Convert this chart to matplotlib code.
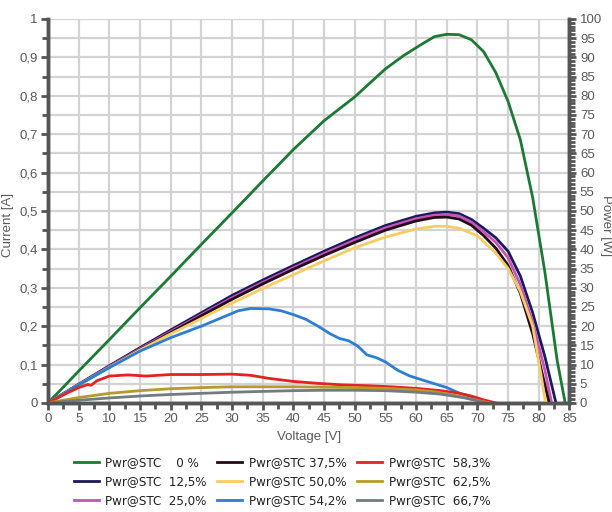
import matplotlib.pyplot as plt
import numpy as np
from matplotlib.ticker import MultipleLocator, FuncFormatter
from matplotlib import font_manager

plt.rcParams['font.family'] = ['Liberation Sans', 'DejaVu Sans']

#  Power curves [W] vs voltage [V]

v_0 = [0, 5, 10, 15, 20, 25, 30, 35, 40, 45, 50, 55, 58, 61, 63, 65, 67, 69, 71, 73, 75, 77, 79, 81, 83, 84.3]
p_0 = [0, 8.3, 16.5, 24.8, 33, 41.3, 49.5, 57.8, 66, 73.5, 79.7, 87, 90.5, 93.5, 95.4, 96, 95.9, 94.6, 91.5, 86, 78.5, 68.5, 53.5, 34, 11, 0]

v_125 = [0, 5, 10, 15, 20, 25, 30, 35, 40, 45, 50, 55, 60, 63, 65, 67, 69, 71, 73, 75, 77, 79, 81, 82.8]
p_125 = [0, 4.9, 9.7, 14.4, 19, 23.5, 28, 32, 35.8, 39.5, 43, 46.2, 48.6, 49.5, 49.7, 49.3, 47.8, 45.5, 43, 39.5, 33, 23.5, 12, 0]

v_250 = [0, 5, 10, 15, 20, 25, 30, 35, 40, 45, 50, 55, 60, 63, 65, 67, 69, 71, 73, 75, 77, 79, 81, 82.1]
p_250 = [0, 4.8, 9.5, 14.1, 18.6, 23, 27.4, 31.4, 35.2, 38.9, 42.4, 45.6, 48, 48.9, 49.1, 48.7, 47.1, 44.6, 41.8, 37.8, 30.8, 21, 8.5, 0]

v_375 = [0, 5, 10, 15, 20, 25, 30, 35, 40, 45, 50, 55, 60, 63, 65, 67, 69, 71, 73, 75, 77, 79, 80.5, 81.7]
p_375 = [0, 4.7, 9.3, 13.9, 18.3, 22.7, 27, 31, 34.8, 38.4, 41.8, 45, 47.4, 48.3, 48.4, 47.9, 46.3, 43.6, 40.3, 35.8, 28.5, 18, 8, 0]

v_500 = [0, 5, 10, 15, 20, 25, 30, 35, 40, 45, 50, 55, 60, 63, 65, 67, 70, 73, 75, 77, 79, 80.5, 81.1]
p_500 = [0, 4.7, 9.3, 13.8, 18, 22, 26, 29.8, 33.4, 37, 40.4, 43.2, 45.3, 46, 46, 45.5, 43.5, 39, 35, 29, 20, 6, 0]

v_542 = [0, 5, 10, 15, 20, 25, 28, 31, 33, 36, 38, 40, 42, 44, 46, 47.5, 49, 50.5, 52, 53.5, 55, 57, 59, 61, 63, 65, 67, 69, 71, 72.5]
p_542 = [0, 4.7, 9.2, 13.5, 17, 20, 22, 24, 24.6, 24.5, 24, 23, 21.8, 20, 18, 16.8, 16.2, 14.8, 12.5, 11.8, 10.7, 8.5, 7, 6, 5, 4, 2.6, 1.6, 0.6, 0]

v_583 = [0, 3, 5, 6.5, 7, 8, 10, 13, 16, 20, 25, 30, 33, 36, 40, 44, 48, 52, 56, 60, 64, 67, 69, 71, 73]
p_583 = [0, 2.5, 4, 4.8, 4.6, 5.8, 7, 7.3, 7, 7.4, 7.4, 7.5, 7.2, 6.4, 5.6, 5.1, 4.7, 4.5, 4.2, 3.8, 3.2, 2.5, 1.8, 0.8, 0]

v_625 = [0, 5, 10, 15, 20, 25, 30, 35, 40, 45, 50, 55, 60, 63, 66, 69, 72]
p_625 = [0, 1.4, 2.5, 3.2, 3.7, 4.0, 4.2, 4.2, 4.2, 4.1, 4.0, 3.8, 3.4, 2.9, 2.1, 1.0, 0]

v_667 = [0, 5, 10, 15, 20, 25, 30, 35, 40, 45, 50, 55, 60, 64, 68, 71.5]
p_667 = [0, 0.7, 1.3, 1.8, 2.2, 2.5, 2.8, 3.0, 3.2, 3.3, 3.3, 3.2, 2.8, 2.3, 1.3, 0]

labels = ["Pwr@STC    0 %", "Pwr@STC  12,5%", "Pwr@STC  25,0%",
          "Pwr@STC 37,5%", "Pwr@STC 50,0%", "Pwr@STC 54,2%",
          "Pwr@STC  58,3%", "Pwr@STC  62,5%", "Pwr@STC  66,7%"]
colors = ["#1b7a33", "#1a1a5e", "#c653b5", "#260a1c", "#f5cd63",
          "#2d7fd3", "#e52222", "#b59a2c", "#737a82"]
curves = [(v_0, p_0), (v_125, p_125), (v_250, p_250), (v_375, p_375),
          (v_500, p_500), (v_542, p_542), (v_583, p_583), (v_625, p_625),
          (v_667, p_667)]

axis_col = "#555555"
text_col = "#5a5a5a"

fig = plt.figure(figsize=(6.12, 5.12), dpi=100)
ax = fig.add_axes([0.0785, 0.213, 0.852, 0.75])
ax2 = ax.twinx()

ax.set_xlim(0, 85)
ax.set_ylim(0, 1)
ax2.set_ylim(0, 100)

ax.xaxis.set_major_locator(MultipleLocator(5))
ax.xaxis.set_minor_locator(MultipleLocator(2.5))
ax.yaxis.set_major_locator(MultipleLocator(0.1))
ax.yaxis.set_minor_locator(MultipleLocator(0.05))
ax2.yaxis.set_major_locator(MultipleLocator(5))
ax2.yaxis.set_minor_locator(MultipleLocator(1))

comma = FuncFormatter(lambda y, pos: ("%g" % round(y, 2)).replace(".", ","))
ax.yaxis.set_major_formatter(comma)

ax.grid(True, which="major", axis="x", color="#d3d3d3", lw=1.6)
ax.grid(True, which="both", axis="y", color="#d3d3d3", lw=1.6)
ax.set_axisbelow(True)

for a in (ax, ax2):
    a.spines["top"].set_visible(False)
    for s in ("left", "right", "bottom"):
        a.spines[s].set_color(axis_col)
        a.spines[s].set_linewidth(2.5)
    a.tick_params(which="major", colors=axis_col, labelcolor=text_col, labelsize=9.5, width=2, length=5, pad=2.5)
    a.tick_params(which="minor", colors=axis_col, width=2, length=4)

for (v, p), c, lab in zip(curves, colors, labels):
    ax2.plot(v, p, color=c, lw=2, label=lab, solid_joinstyle="round")

ax.set_xlabel("Voltage [V]", color=text_col, fontsize=9.5, labelpad=4)
fig.text(0.013, 0.56, "Current [A]", color=text_col, fontsize=9.5, rotation=90, ha="center", va="center")
fig.text(0.99, 0.56, "Power [W]", color=text_col, fontsize=9.5, rotation=270, ha="center", va="center")

leg_font = font_manager.FontProperties(family="DejaVu Sans", stretch="condensed", size=9.5)
handles, labs = ax2.get_legend_handles_labels()
fig.legend(handles, labs, ncol=3, loc="lower center", bbox_to_anchor=(0.461, -0.014),
           frameon=False, prop=leg_font, handlelength=1.9, handletextpad=0.5,
           columnspacing=0.8, labelspacing=0.45, labelcolor="#222222")

fig.savefig("out.png", dpi=100)
